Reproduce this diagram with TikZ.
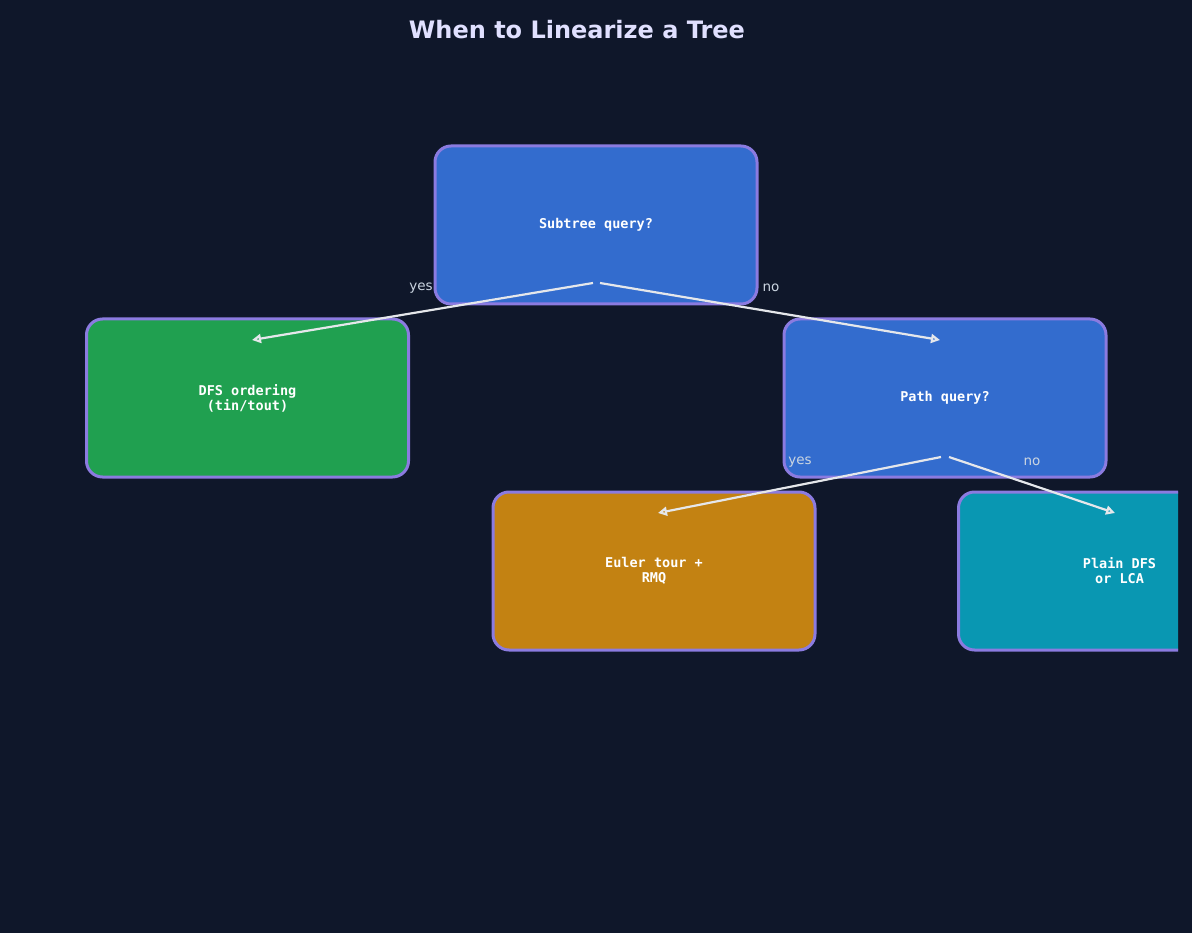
\documentclass[tikz,border=0pt]{standalone}
\usepackage{fontspec}
\setmainfont{DejaVu Sans}
\setmonofont{DejaVu Sans Mono}
\usetikzlibrary{arrows.meta}
\definecolor{bg}{HTML}{0F172A}
\definecolor{bblue}{HTML}{336CCE}
\definecolor{bgreen}{HTML}{20A050}
\definecolor{borange}{HTML}{C38212}
\definecolor{bteal}{HTML}{0997B2}
\definecolor{edge}{HTML}{8B7BE0}
\definecolor{arr}{HTML}{E5E7EB}
\definecolor{lbl}{HTML}{CBD5E1}
\begin{document}
\begin{tikzpicture}[x=1pt,y=-1pt,
  box/.style={draw=edge,line width=3pt,rounded corners=16pt,minimum width=322pt,minimum height=158pt,inner sep=0pt,text=white,font=\ttfamily\bfseries\fontsize{13.5}{15}\selectfont,align=center},
  conn/.style={draw=arr,line width=2.2pt,-{Stealth[length=9pt,width=9pt,inset=0pt,open]}},
  elab/.style={text=lbl,font=\fontsize{13.5}{15}\selectfont}]
\fill[bg] (0,0) rectangle (1192,933);
\useasboundingbox (0,0) rectangle (1192,933);
\node[text=white!88!blue,font=\bfseries\fontsize{24}{28}\selectfont] (title) at (577,30) {When to Linearize a Tree};
\node[box,fill=bblue] (sub) at (596,225) {Subtree query?};
\node[box,fill=bgreen] (dfs) at (247.5,398) {DFS ordering\\(tin/tout)};
\node[box,fill=bblue] (path) at (945,398) {Path query?};
\node[box,fill=borange] (eul) at (654,571) {Euler tour +\\RMQ};
\begin{scope}
\clip (0,0) rectangle (1178,933);
\node[box,fill=bteal] (pl) at (1119.5,571) {Plain DFS\\or LCA};
\end{scope}
\coordinate (s1) at (593,283); \coordinate (s2) at (600,283);
\coordinate (p1) at (941,457); \coordinate (p2) at (949,457);
\coordinate (t1) at (252,340); \coordinate (t2) at (940,340);
\coordinate (t3) at (658,513); \coordinate (t4) at (1115,513);
\draw[conn] (s1) -- (t1);
\draw[conn] (s2) -- (t2);
\draw[conn] (p1) -- (t3);
\draw[conn] (p2) -- (t4);
\node[elab] (l1) at (421,288) {yes};
\node[elab] (l2) at (771,288) {no};
\node[elab] (l3) at (800,462) {yes};
\node[elab] (l4) at (1032,462) {no};
\end{tikzpicture}
\end{document}
